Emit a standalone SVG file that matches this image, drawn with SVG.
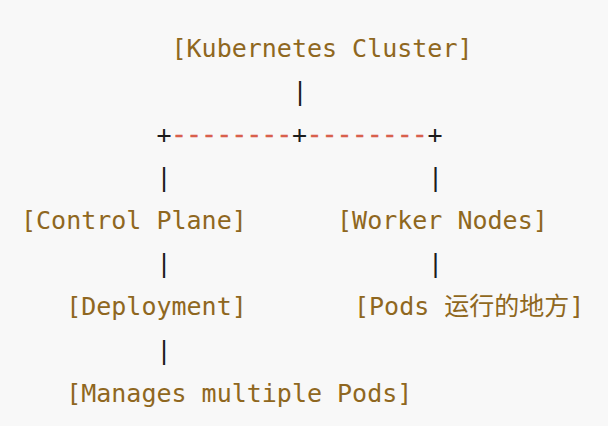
<svg xmlns="http://www.w3.org/2000/svg" width="608" height="426" viewBox="0 0 608 426">
<style>
  text { font-family: "DejaVu Sans Mono", "Noto Sans CJK SC", monospace; font-size: 25px; }
  .n { fill: #8f6720; }
  .c { fill: #1c1c1c; }
  .d { fill: #d8604c; stroke: #d8604c; stroke-width: 0.7px; }
  .cjk { font-family: "Noto Sans CJK SC", "DejaVu Sans Mono", sans-serif; }
</style>
<rect width="608" height="426" fill="#f8f8f8"/>
<g id="connectors">
  <text class="c" x="292.4" y="99.8">|</text>
  <text x="156.45" y="142.9"><tspan class="c">+</tspan><tspan class="d">--------</tspan><tspan class="c">+</tspan><tspan class="d">--------</tspan><tspan class="c">+</tspan></text>
  <text class="c" x="156.45" y="186">|</text>
  <text class="c" x="428" y="186">|</text>
  <text class="c" x="156.45" y="272.3">|</text>
  <text class="c" x="428" y="272.3">|</text>
  <text class="c" x="156.45" y="358.5">|</text>
</g>
<g id="node-cluster"><text class="n" x="171.5" y="56.7">[Kubernetes Cluster]</text></g>
<g id="node-control-plane"><text class="n" x="21" y="229.2">[Control Plane]</text></g>
<g id="node-worker-nodes"><text class="n" x="337.05" y="229.2">[Worker Nodes]</text></g>
<g id="node-deployment"><text class="n" x="66.15" y="315.4">[Deployment]</text></g>
<g id="node-pods"><text class="n" x="354" y="315.4">[Pods <tspan class="cjk">运行的地方</tspan>]</text></g>
<g id="node-manages"><text class="n" x="66.15" y="401.6">[Manages multiple Pods]</text></g>
</svg>
